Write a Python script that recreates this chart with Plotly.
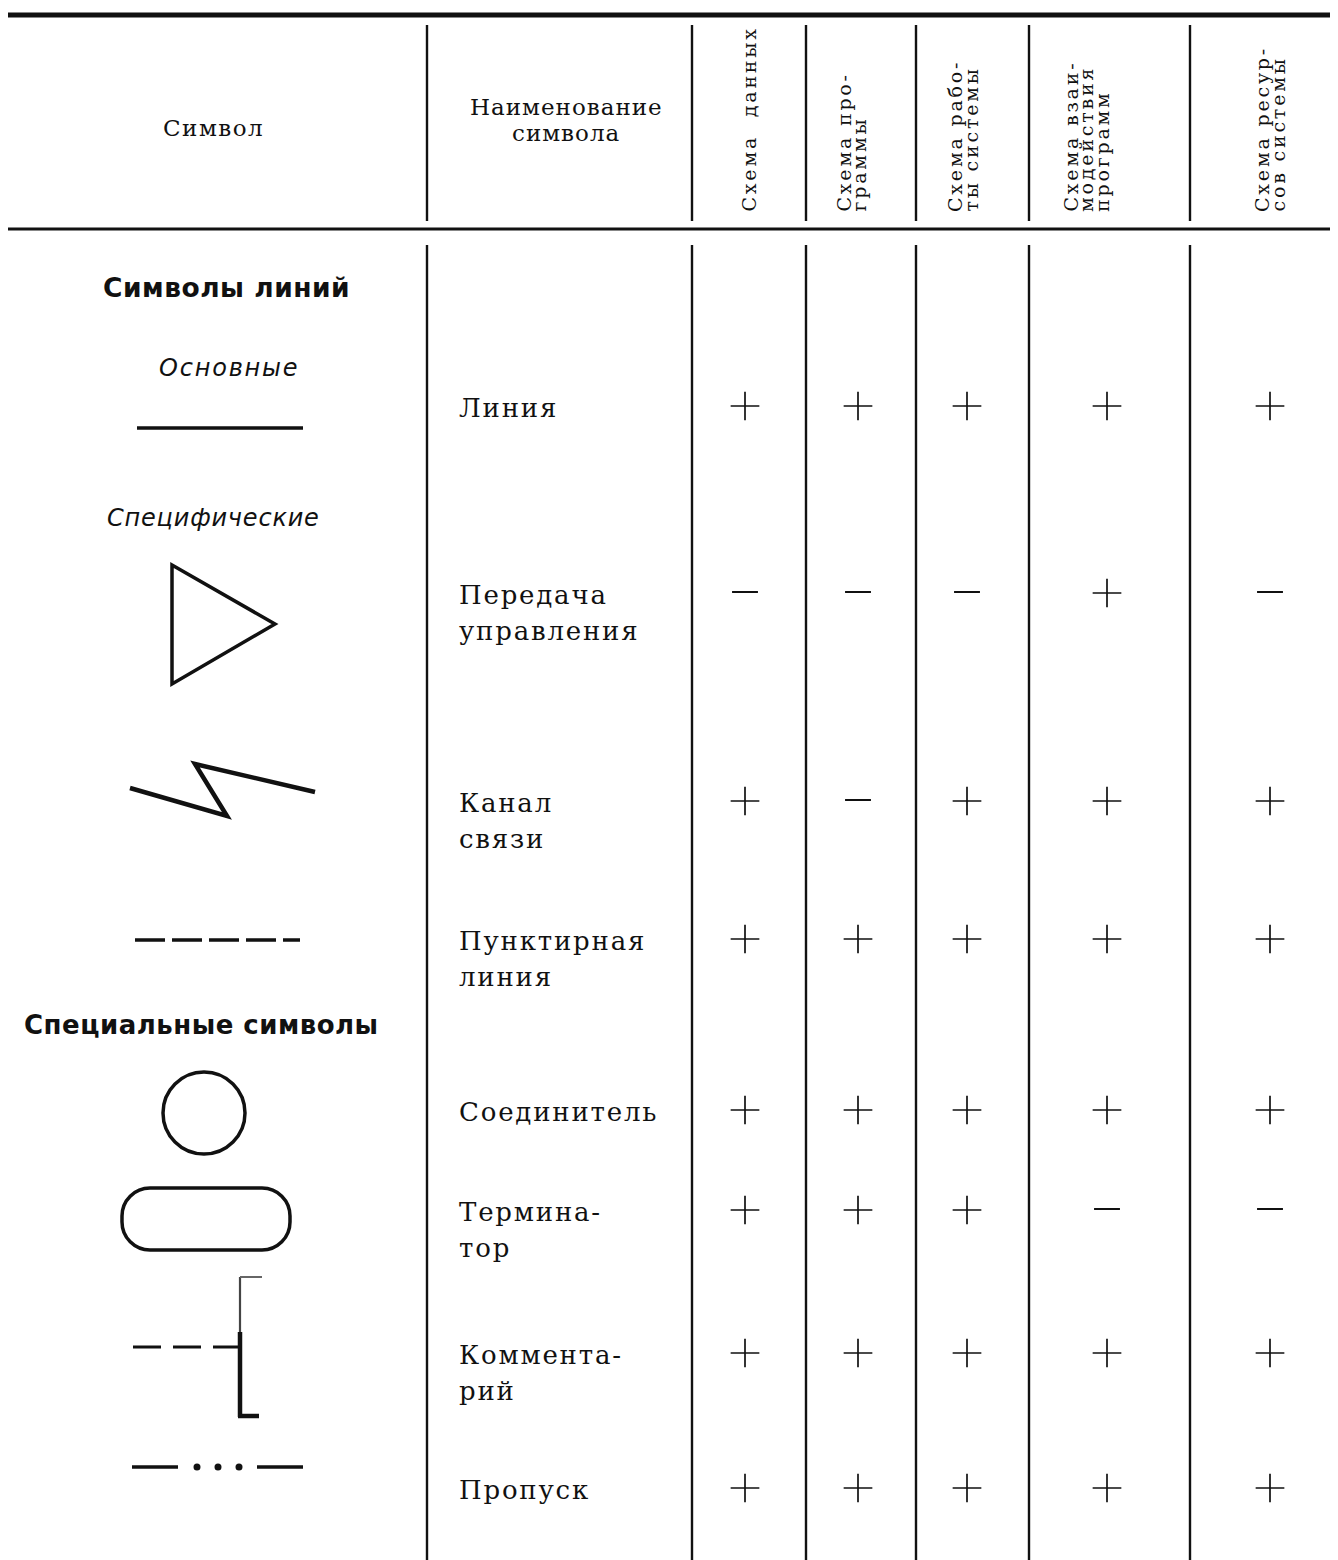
import plotly.graph_objects as go

W, H = 1338, 1560
PAD = 8  # default page body margin; axes ranges are offset so data units == page pixels

# ---------------- data ----------------
header_symbol = "Символ"
header_name = ["Наименование", "символа"]
column_headers = [
    ["Схема\u00a0\u00a0данных"],
    ["Схема про-", "граммы"],
    ["Схема рабо-", "ты системы"],
    ["Схема взаи-", "модействия", "программ"],
    ["Схема ресур-", "сов системы"],
]
section_titles = ["Символы линий", "Специальные символы"]
subsection_titles = ["Основные", "Специфические"]
symbol_names = [
    ["Линия"],
    ["Передача", "управления"],
    ["Канал", "связи"],
    ["Пунктирная", "линия"],
    ["Соединитель"],
    ["Термина-", "тор"],
    ["Коммента-", "рий"],
    ["Пропуск"],
]
applicability = [
    ["+", "+", "+", "+", "+"],
    ["-", "-", "-", "+", "-"],
    ["+", "-", "+", "+", "+"],
    ["+", "+", "+", "+", "+"],
    ["+", "+", "+", "+", "+"],
    ["+", "+", "+", "-", "-"],
    ["+", "+", "+", "+", "+"],
    ["+", "+", "+", "+", "+"],
]

# ---------------- layout constants ----------------
vlines_x = [427, 692, 806, 916, 1029, 1190]
col_centers = [745, 858, 967, 1107, 1270]
col_header_x = [[748], [843, 858], [955, 970], [1070, 1086, 1102], [1262, 1277]]
row_y = [408, 595, 803, 941, 1112, 1212, 1355, 1490]
name_gap = 36
INK = "#111111"
SERIF = "DejaVu Serif"
SANS = "DejaVu Sans"

fig = go.Figure()

# ---- applicability marks ----
px, py, mx, my = [], [], [], []
for r, row in enumerate(applicability):
    for c, v in enumerate(row):
        if v == "+":
            px.append(col_centers[c]); py.append(row_y[r] - 2)
        else:
            mx.append(col_centers[c]); my.append(row_y[r] - 3)
fig.add_trace(go.Scatter(x=px, y=py, mode="markers", hoverinfo="skip",
                         marker=dict(symbol="cross-thin", size=20.5,
                                     line=dict(color=INK, width=1.7))))
fig.add_trace(go.Scatter(x=mx, y=my, mode="markers", hoverinfo="skip",
                         marker=dict(symbol="line-ew", size=18.5,
                                     line=dict(color=INK, width=2))))

shapes = []
def line(x0, y0, x1, y1, w=2.5, dash=None, color=INK):
    d = dict(type="line", x0=x0, y0=y0, x1=x1, y1=y1, xref="x", yref="y",
             line=dict(color=color, width=w))
    if dash:
        d["line"]["dash"] = dash
    shapes.append(d)

# table rules
line(5, 15, W, 15, w=5)
line(0, 229, W, 229, w=3)
for x in vlines_x:
    line(x, 25, x, 221, w=2.4)
    line(x, 245, x, H, w=2.4)

# ---- symbol drawings ----
line(137, 428, 303, 428, w=3.5)
shapes.append(dict(type="path", path="M 172 565 L 275 624 L 172 684 Z",
                   xref="x", yref="y", line=dict(color=INK, width=3.5)))
shapes.append(dict(type="path", path="M 130 788 L 227 816 L 195 764 L 315 792",
                   xref="x", yref="y", line=dict(color=INK, width=4.5)))
line(135, 940, 300, 940, w=3.5, dash="30px,7px")
shapes.append(dict(type="circle", x0=163, x1=245, y0=1072, y1=1154,
                   xref="x", yref="y", line=dict(color=INK, width=3.5)))
x0, x1, y0, y1, rr = 122, 290, 1188, 1250, 28
k = 0.5523 * rr
term = (f"M {x0+rr} {y0} L {x1-rr} {y0} "
        f"C {x1-rr+k} {y0} {x1} {y0+rr-k} {x1} {y0+rr} "
        f"L {x1} {y1-rr} "
        f"C {x1} {y1-rr+k} {x1-rr+k} {y1} {x1-rr} {y1} "
        f"L {x0+rr} {y1} "
        f"C {x0+rr-k} {y1} {x0} {y1-rr+k} {x0} {y1-rr} "
        f"L {x0} {y0+rr} "
        f"C {x0} {y0+rr-k} {x0+rr-k} {y0} {x0+rr} {y0} Z")
shapes.append(dict(type="path", path=term, xref="x", yref="y",
                   line=dict(color=INK, width=3.5)))
line(133, 1347, 240, 1347, w=3, dash="28px,12px")
line(240, 1277, 240, 1332, w=2.2, color="#444444")
line(240, 1277, 262, 1277, w=2, color="#666666")
line(240, 1332, 240, 1417, w=4.5)
line(238, 1416, 259, 1416, w=4.5)
line(132, 1467, 178, 1467, w=3.5)
line(257, 1467, 303, 1467, w=3.5)
for cx in (197, 218, 239):
    shapes.append(dict(type="circle", x0=cx - 3.5, x1=cx + 3.5, y0=1463.5, y1=1470.5,
                       xref="x", yref="y", fillcolor=INK, line=dict(color=INK, width=0)))

# ---- texts ----
ann = []
def text(t, x, y, size, family=SERIF, xanchor="center", yanchor="middle",
         angle=0, weight="normal", style="normal", ls=0):
    if ls:
        t = f'<span style="letter-spacing:{ls}px">{t}</span>'
    ann.append(dict(text=t, x=x, y=y, xref="x", yref="y", showarrow=False,
                    xanchor=xanchor, yanchor=yanchor, textangle=angle,
                    font=dict(family=family, size=size, color=INK,
                              weight=weight, style=style)))

text(header_symbol, 213, 128, 23, ls=1.5)
text(header_name[0], 566, 107, 23, ls=1)
text(header_name[1], 566, 133, 23, ls=1)
for lines_, xs in zip(column_headers, col_header_x):
    for t, x in zip(lines_, xs):
        text(t, x, 214, 19, angle=-90, yanchor="bottom", ls=2.8)

text(section_titles[0], 226, 287, 26.5, family=SANS, weight="bold", ls=0.5)
text(section_titles[1], 201, 1025, 26, family=SANS, weight="bold", ls=0.5)
text(subsection_titles[0], 229, 368, 24, family=SANS, style="italic", ls=1.8)
text(subsection_titles[1], 213, 518, 24, family=SANS, style="italic", ls=0.8)

for r, lines_ in enumerate(symbol_names):
    for i, t in enumerate(lines_):
        text(t, 457, row_y[r] + i * name_gap, 26, xanchor="left", ls=1.8)

fig.update_layout(
    width=W - PAD, height=H - PAD, margin=dict(l=0, r=0, t=0, b=0),
    paper_bgcolor="white", plot_bgcolor="white", showlegend=False,
    xaxis=dict(range=[PAD, W], visible=False, fixedrange=True),
    yaxis=dict(range=[H, PAD], visible=False, fixedrange=True),
    shapes=shapes, annotations=ann,
)
fig.write_html("out.html")
